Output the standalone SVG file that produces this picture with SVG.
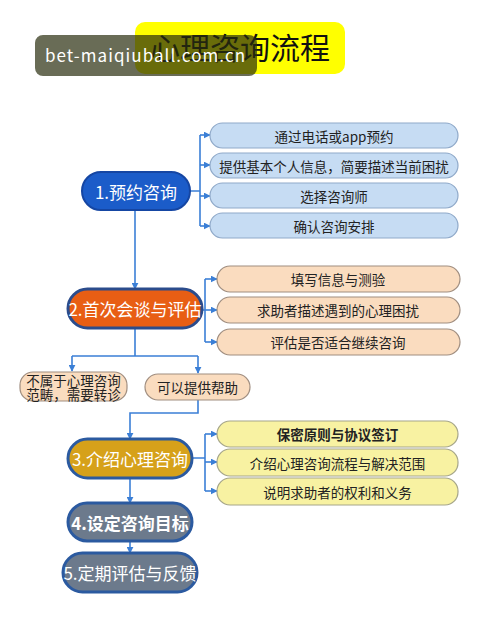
<svg xmlns="http://www.w3.org/2000/svg" width="480" height="628" viewBox="0 0 480 628">
<style>
text{font-family:"Noto Sans CJK SC","Noto Sans",sans-serif;}
.node text{fill:#fff;font-size:17px;text-anchor:middle;dominant-baseline:central;}
.sub text{fill:#222;font-size:13.5px;text-anchor:middle;dominant-baseline:central;}
.blue rect{fill:#c6dcf3;stroke:#8fa9c9;stroke-width:1.2;}
.peach rect{fill:#fadcbf;stroke:#a08e80;stroke-width:1.2;}
.yel rect{fill:#f8f2a2;stroke:#a6a68a;stroke-width:1.2;}
.conn path{fill:none;stroke:#3b7fd6;stroke-width:1.6;}
</style>
<defs>
<marker id="ah" viewBox="0 0 10 10" refX="9" refY="5" markerWidth="7" markerHeight="7" orient="auto" markerUnits="userSpaceOnUse">
<path d="M0,0 L10,5 L0,10 Z" fill="#3b7fd6"/>
</marker>
</defs>
<rect width="480" height="628" fill="#fff"/>
<g id="title">
<rect x="135" y="22" width="210" height="52" rx="10" fill="#ffff00"/>
<text x="240" y="59" font-size="30" text-anchor="middle" fill="#111">心理咨询流程</text>
</g>
<g id="conns" class="conn">
<path d="M190,191 H200 M200,135 V226"/>
<path d="M200,135 H210" marker-end="url(#ah)"/>
<path d="M200,165 H210" marker-end="url(#ah)"/>
<path d="M200,196 H210" marker-end="url(#ah)"/>
<path d="M200,226 H210" marker-end="url(#ah)"/>
<path d="M135,210 V289" marker-end="url(#ah)"/>
<path d="M202,310 H205 M205,279 V342"/>
<path d="M205,279 H217" marker-end="url(#ah)"/>
<path d="M205,310 H217" marker-end="url(#ah)"/>
<path d="M205,342 H217" marker-end="url(#ah)"/>
<path d="M135,328 V356 M72,356 H198"/>
<path d="M72,356 V371" marker-end="url(#ah)"/>
<path d="M198,356 V373" marker-end="url(#ah)"/>
<path d="M198,400 V413 H130 V439" marker-end="url(#ah)"/>
<path d="M192,458 H205 M205,434 V491"/>
<path d="M205,434 H217" marker-end="url(#ah)"/>
<path d="M205,462 H217" marker-end="url(#ah)"/>
<path d="M205,491 H217" marker-end="url(#ah)"/>
<path d="M130,478 V503" marker-end="url(#ah)"/>
<path d="M130,541 V553" marker-end="url(#ah)"/>
</g>
<g id="n1" class="node">
<rect x="82" y="172" width="108" height="38" rx="19" fill="#1b5cc9" stroke="#1546a3" stroke-width="2"/>
<text x="136" y="191">1.预约咨询</text>
</g>
<g id="n1a" class="sub blue"><rect x="210" y="123" width="248" height="25" rx="12.5"/><text x="334" y="135.5">通过电话或app预约</text></g>
<g id="n1b" class="sub blue"><rect x="210" y="153" width="248" height="25" rx="12.5"/><text x="334" y="165.5">提供基本个人信息，简要描述当前困扰</text></g>
<g id="n1c" class="sub blue"><rect x="210" y="183" width="248" height="25" rx="12.5"/><text x="334" y="195.5">选择咨询师</text></g>
<g id="n1d" class="sub blue"><rect x="210" y="213" width="248" height="25" rx="12.5"/><text x="334" y="225.5">确认咨询安排</text></g>
<g id="n2" class="node">
<rect x="68" y="289" width="134" height="39" rx="19.5" fill="#e85e14" stroke="#2b4c8c" stroke-width="3"/>
<text x="135" y="308.5">2.首次会谈与评估</text>
</g>
<g id="n2a" class="sub peach"><rect x="217" y="266" width="243" height="26" rx="13"/><text x="338" y="279">填写信息与测验</text></g>
<g id="n2b" class="sub peach"><rect x="217" y="297" width="243" height="26" rx="13"/><text x="338" y="310">求助者描述遇到的心理困扰</text></g>
<g id="n2c" class="sub peach"><rect x="217" y="329" width="243" height="26" rx="13"/><text x="338" y="342">评估是否适合继续咨询</text></g>
<g id="n2l" class="sub peach"><rect x="20" y="372" width="107" height="29" rx="13"/>
<text font-size="13"><tspan x="73.5" y="380">不属于心理咨询</tspan><tspan x="73.5" y="394">范畴，需要转诊</tspan></text></g>
<g id="n2r" class="sub peach"><rect x="145" y="374" width="105" height="26" rx="13"/><text x="197.5" y="387">可以提供帮助</text></g>
<g id="n3" class="node">
<rect x="68" y="439" width="124" height="39" rx="19.5" fill="#d6a11a" stroke="#2b5aa0" stroke-width="3"/>
<text x="130" y="458.5">3.介绍心理咨询</text>
</g>
<g id="n3a" class="sub yel"><rect x="217" y="421" width="241" height="26" rx="13"/><text x="337.5" y="434" font-weight="bold">保密原则与协议签订</text></g>
<g id="n3b" class="sub yel"><rect x="217" y="449" width="241" height="27" rx="13"/><text x="337.5" y="462.5">介绍心理咨询流程与解决范围</text></g>
<g id="n3c" class="sub yel"><rect x="217" y="478" width="241" height="27" rx="13"/><text x="337.5" y="491.5">说明求助者的权利和义务</text></g>
<g id="n4" class="node">
<rect x="68" y="503" width="124" height="38" rx="19" fill="#6c7a8c" stroke="#2b5aa0" stroke-width="3"/>
<text x="130" y="522" font-weight="bold">4.设定咨询目标</text>
</g>
<g id="n5" class="node">
<rect x="63" y="553" width="134" height="39" rx="19.5" fill="#6c7a8c" stroke="#2b5aa0" stroke-width="3"/>
<text x="130" y="572.5">5.定期评估与反馈</text>
</g>
<g id="watermark">
<rect x="35" y="35" width="222" height="41" rx="8" fill="#2a2e0e" opacity="0.7"/>
<text x="45" y="62" font-family="Noto Sans, sans-serif" font-size="17" fill="#fff" textLength="200">bet-maiqiuball.com.cn</text>
</g>
</svg>
